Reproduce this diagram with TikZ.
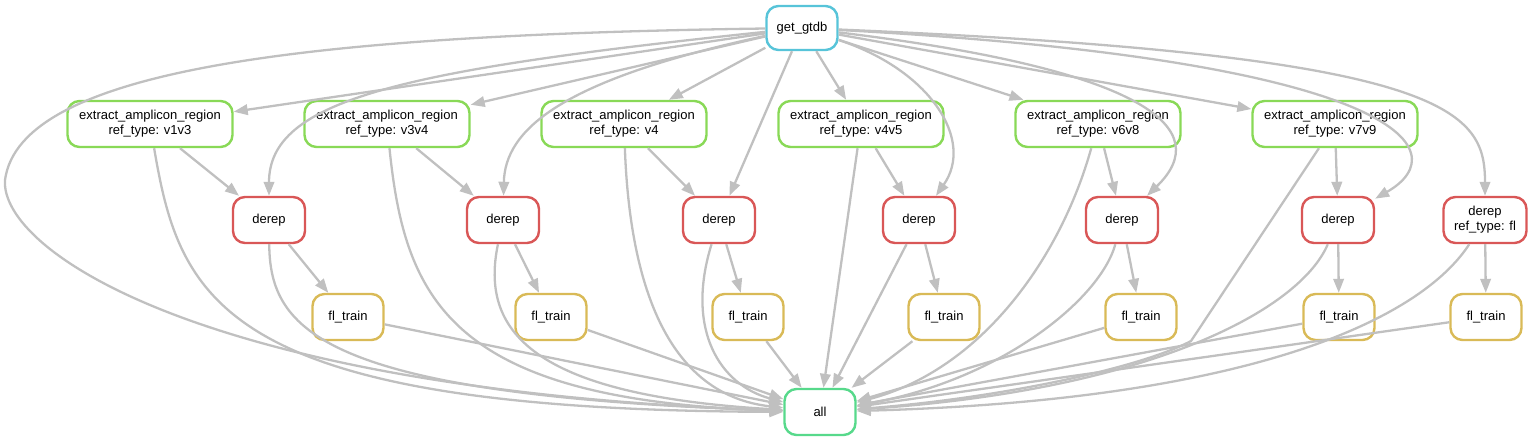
\documentclass[tikz,border=0pt]{standalone}
\usepackage{fontspec}
\setmainfont{Liberation Sans}
\usetikzlibrary{arrows.meta,positioning}
\definecolor{edgegray}{RGB}{192,192,192}
\definecolor{gtdbcol}{RGB}{87,196,217}
\definecolor{extractcol}{RGB}{137,217,87}
\definecolor{derepcol}{RGB}{217,87,87}
\definecolor{traincol}{RGB}{217,186,87}
\definecolor{allcol}{RGB}{87,217,139}
\tikzstyle{rule}=[rectangle,
                  rounded corners=12pt,
                  line width=2.4pt,
                  fill=white,
                  minimum height=46pt,
                  minimum width=71pt,
                  inner xsep=10pt,
                  align=center,
                  font=\fontsize{13}{15}\selectfont]
\tikzstyle{getgtdb}=[rule,draw=gtdbcol,minimum height=44pt]
\tikzstyle{extract}=[rule,draw=extractcol,minimum width=165pt]
\tikzstyle{derep}=[rule,draw=derepcol,minimum width=72pt]
\tikzstyle{train}=[rule,draw=traincol]
\tikzstyle{final}=[rule,draw=allcol]
\tikzstyle{dep}=[color=edgegray,line width=2.3pt,-{Triangle[length=14pt,width=10.5pt]}]

\begin{document}
\begin{tikzpicture}[x=1pt,y=-1pt]
    \useasboundingbox (0,0) rectangle (1533,443);
    \node[getgtdb] (gtdb) at (802,28) {get\_gtdb};
    \node[extract] (ev1v3) at (150,124) {extract\_amplicon\_region\\ref\_type: v1v3};
    \node[extract,node distance=237pt,right of=ev1v3] (ev3v4) {extract\_amplicon\_region\\ref\_type: v3v4};
    \node[extract,node distance=237pt,right of=ev3v4] (ev4) {extract\_amplicon\_region\\ref\_type: v4};
    \node[extract,node distance=237pt,right of=ev4] (ev4v5) {extract\_amplicon\_region\\ref\_type: v4v5};
    \node[extract,node distance=237pt,right of=ev4v5] (ev6v8) {extract\_amplicon\_region\\ref\_type: v6v8};
    \node[extract,node distance=237pt,right of=ev6v8] (ev7v9) {extract\_amplicon\_region\\ref\_type: v7v9};
    \node[derep] (dv1v3) at (269,220) {derep};
    \node[derep] (dv3v4) at (503,220) {derep};
    \node[derep] (dv4) at (719,220) {derep};
    \node[derep] (dv4v5) at (919,220) {derep};
    \node[derep] (dv6v8) at (1122,220) {derep};
    \node[derep] (dv7v9) at (1338,220) {derep};
    \node[derep,minimum width=83pt] (dfl) at (1485,220) {derep\\ref\_type: fl};
    \node[train] (tv1v3) at (348,317) {fl\_train};
    \node[train] (tv3v4) at (551,317) {fl\_train};
    \node[train] (tv4) at (748,317) {fl\_train};
    \node[train] (tv4v5) at (944,317) {fl\_train};
    \node[train] (tv6v8) at (1141,317) {fl\_train};
    \node[train] (tv7v9) at (1339,317) {fl\_train};
    \node[train] (tfl) at (1486,317) {fl\_train};
    \node[final] (all) at (820,412) {all};

    % get_gtdb
    \foreach \e in {ev1v3,ev3v4,ev4,ev4v5,ev6v8,ev7v9}
        \path[dep] (gtdb) edge (\e);
    \draw[dep] (gtdb) .. controls (400,70) and (269,100) .. (dv1v3);
    \draw[dep] (gtdb) .. controls (560,80) and (505,130) .. (dv3v4);
    \path[dep] (gtdb) edge (dv4);
    \draw[dep] (gtdb) .. controls (930,70) and (975,140) .. (dv4v5);
    \draw[dep] (gtdb) .. controls (1150,70) and (1215,130) .. (dv6v8);
    \draw[dep] (gtdb) .. controls (1400,60) and (1460,150) .. (dv7v9);
    \draw[dep] (gtdb) .. controls (1450,55) and (1485,110) .. (dfl);
    \draw[dep] (gtdb) .. controls (300,35) and (20,70) .. (5,180) .. controls (0,250) and (200,390) .. (all);

    % regions
    \foreach \r in {v1v3,v3v4,v4,v4v5,v6v8,v7v9}
        \path[dep] (e\r) edge (d\r);
    \foreach \r in {v1v3,v3v4,v4,v4v5,v6v8,v7v9,fl}
        \path[dep] (d\r) edge (t\r);

    % all
    \draw[dep] (ev1v3) .. controls (180,300) and (220,410) .. (all);
    \draw[dep] (dv1v3) .. controls (270,330) and (320,395) .. (all);
    \draw[dep] (ev3v4) .. controls (405,300) and (450,400) .. (all);
    \draw[dep] (dv3v4) .. controls (480,330) and (530,395) .. (all);
    \draw[dep] (ev4) .. controls (630,290) and (670,395) .. (all);
    \draw[dep] (dv4) .. controls (685,330) and (720,385) .. (all);
    \path[dep] (ev4v5) edge (all) (dv4v5) edge (all);
    \draw[dep] (ev6v8) .. controls (1060,260) and (980,370) .. (all);
    \draw[dep] (dv6v8) .. controls (1100,300) and (1000,380) .. (all);
    \draw[dep] (ev7v9) -- (1191,341) .. controls (1140,368) and (1000,398) .. (all);
    \draw[dep] (dv7v9) .. controls (1300,310) and (1150,390) .. (all);
    \draw[dep] (dfl) .. controls (1420,320) and (1250,400) .. (all);
    \foreach \r in {v1v3,v3v4,v4,v4v5,v6v8,v7v9,fl}
        \path[dep] (t\r) edge (all);
\end{tikzpicture}
\end{document}
